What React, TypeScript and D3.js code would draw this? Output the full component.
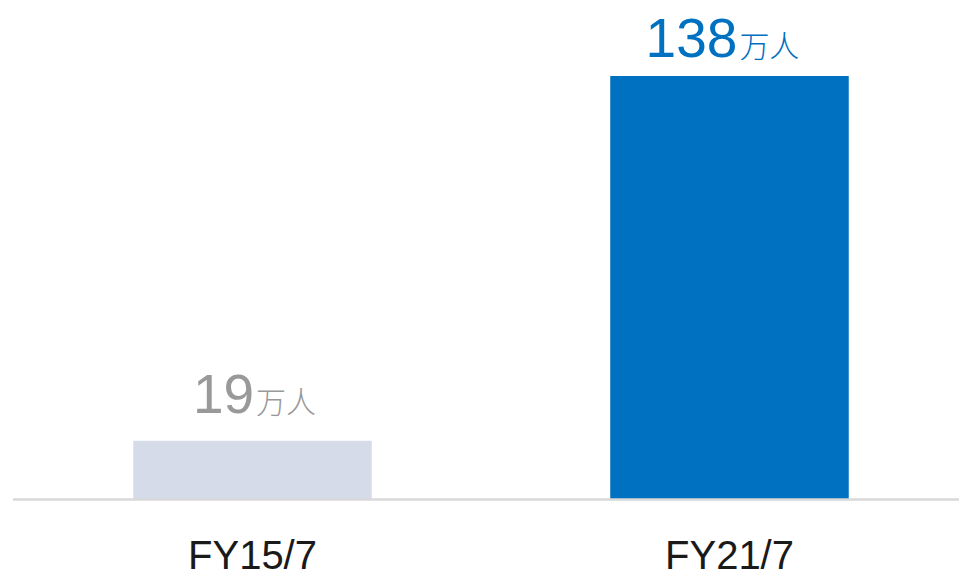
import React from "react";
import * as d3 from "d3";

const categories: string[] = ["FY15/7", "FY21/7"];
const values: number[] = [19, 138];
const unitLabel = "万人";
const barColors: string[] = ["#d5dbe8", "#0070c0"];
const valueColors: string[] = ["#999999", "#0070c0"];

const W = 959;
const H = 572;
const baseY = 499;
const topY = 76;
// manual label placement tweaks (layout only)
const labelGap: number[] = [28, 19];
const labelShift: number[] = [2, -7];

export default function App() {
  const x = d3
    .scaleBand<string>()
    .domain(categories)
    .range([14, 968])
    .paddingInner(0.5)
    .paddingOuter(0.25);
  const y = d3.scaleLinear().domain([0, d3.max(values) as number]).range([baseY, topY]);
  const font = "'Liberation Sans', Arial, 'Noto Sans CJK SC', sans-serif";

  return (
    <svg
      width={W}
      height={H}
      style={{ position: "absolute", left: 0, top: 0, background: "#fff" }}
    >
      {categories.map((c, i) => {
        const bx = x(c) as number;
        const bw = x.bandwidth();
        const cx = bx + bw / 2;
        return (
          <g key={c}>
            <rect x={bx} y={y(values[i])} width={bw} height={baseY - y(values[i])} fill={barColors[i]} />
            <text
              x={cx + labelShift[i]}
              y={y(values[i]) - labelGap[i]}
              textAnchor="middle"
              fill={valueColors[i]}
              fontFamily={font}
            >
              <tspan fontSize={55}>{values[i]}</tspan>
              <tspan fontSize={30} fontFamily="'Noto Sans CJK SC', sans-serif" fontWeight={300} dx={2}>
                {unitLabel}
              </tspan>
            </text>
            <text x={cx} y={569} textAnchor="middle" fontSize={40} fill="#1a1a1a" fontFamily={font}>
              {c}
            </text>
          </g>
        );
      })}
      <line x1={13} x2={W} y1={baseY + 0.5} y2={baseY + 0.5} stroke="#d9d9d9" strokeWidth={2.5} />
    </svg>
  );
}
